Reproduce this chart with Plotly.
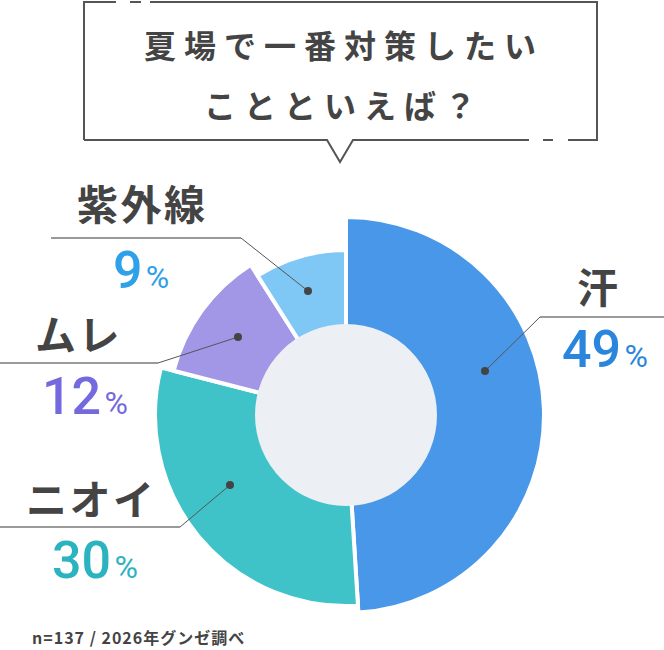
import plotly.graph_objects as go

# survey data
labels = ['汗', 'ニオイ', 'ムレ', '紫外線']
values = [49, 30, 12, 9]
n_total = 137
source = '2026年グンゼ調べ'
title_lines = ['夏場で一番対策したい', 'ことといえば？']

# styling
slice_colors = ['#4897E8', '#40C3C8', '#A296E6', '#7FC8F5']
pct_colors = ['#2A86DD', '#2BB3C0', '#7469DE', '#2FA0EA']
outer_r = [196, 189, 176, 163]  # each slice sticks out by a different amount

W, H = 664, 650
CX, CY = 346, 415  # donut centre in px
HOLE_R = 91

# label layout in px: (dot, elbow, end of horizontal rule, name pos, pct pos)
leaders = [
    ((485, 371), (540, 317), 664, (597, 285), (605, 349)),
    ((230, 485), (180, 527), 0, (90, 497), (95, 560)),
    ((238, 337), (158, 363), 0, (77, 332), (85, 396)),
    ((308, 291), (241, 238), 51, (141, 202), (141, 270)),
]

JP = 'Noto Sans CJK JP'
HAIR = '\u200a'


def spaced(s, sp='\u2005'):
    return sp.join(s)


fig = go.Figure()

# one pie per slice so every slice can have its own radius
for i, r in enumerate(outer_r):
    r2 = r + 2
    fig.add_trace(go.Pie(
        labels=labels,
        values=values,
        sort=False,
        direction='clockwise',
        rotation=0,
        hole=(HOLE_R - 4) / r2,
        marker=dict(
            colors=[slice_colors[i] if j == i else 'rgba(0,0,0,0)' for j in range(len(values))],
            line=dict(color='white', width=[4 if j == i else 0 for j in range(len(values))])
        ),
        domain=dict(x=[(CX - r2) / W, (CX + r2) / W],
                    y=[(H - CY - r2) / H, (H - CY + r2) / H]),
        textinfo='none',
        hoverinfo='skip',
        showlegend=False
    ))

# empty trace so the px axes exist for shapes/annotations
fig.add_trace(go.Scatter(x=[], y=[], showlegend=False))

shapes = []
annotations = []

# grey centre of the donut
shapes.append(dict(type='circle', xref='x', yref='y', layer='above',
                   x0=CX - HOLE_R, x1=CX + HOLE_R, y0=CY - HOLE_R, y1=CY + HOLE_R,
                   fillcolor='#ECEFF3', line=dict(width=0)))

# speech bubble around the title
bubble = ('M 84 140 L 84 2 L 116 2 M 130 2 L 141 2 M 150 2 L 597 2 L 597 140 L 568 140 '
          'M 553 140 L 543 140 M 529 140 L 353 140 L 340 162 L 327 140 L 84 140')
shapes.append(dict(type='path', xref='x', yref='y', path=bubble,
                   line=dict(color='#555555', width=2)))

for i, (dot, elbow, end_x, name_pos, pct_pos) in enumerate(leaders):
    shapes.append(dict(type='line', xref='x', yref='y', x0=elbow[0], y0=elbow[1], x1=end_x, y1=elbow[1],
                       line=dict(color='#9A9A9A', width=2)))
    shapes.append(dict(type='line', xref='x', yref='y', x0=dot[0], y0=dot[1], x1=elbow[0], y1=elbow[1],
                       line=dict(color='#555555', width=1)))
    shapes.append(dict(type='circle', xref='x', yref='y', x0=dot[0] - 4, x1=dot[0] + 4,
                       y0=dot[1] - 4, y1=dot[1] + 4, fillcolor='#444444', line=dict(width=0)))

    annotations.append(dict(x=name_pos[0], y=name_pos[1], xref='x', yref='y', text=spaced(labels[i], HAIR),
                            showarrow=False, xanchor='center', yanchor='middle',
                            font=dict(family=JP, size=41, color='#444444', weight=700)))
    pct_text = f"{values[i]}<span style='font-size:32px;font-weight:400'>{HAIR}%</span>"
    annotations.append(dict(x=pct_pos[0], y=pct_pos[1], xref='x', yref='y', text=pct_text,
                            showarrow=False, xanchor='center', yanchor='middle',
                            font=dict(family='Roboto', size=52, color=pct_colors[i], weight=500)))

# title inside the bubble
for line, y in zip(title_lines, [44, 104]):
    annotations.append(dict(x=340, y=y, xref='x', yref='y', text=spaced(line),
                            showarrow=False, xanchor='center', yanchor='middle',
                            font=dict(family=JP, size=32, color='#444444', weight=700)))

# footnote (letter-spaced a little, like the original)
annotations.append(dict(x=32, y=649, xref='x', yref='y', text=spaced(f'n={n_total} / {source}', HAIR),
                        showarrow=False, xanchor='left', yanchor='bottom', borderpad=0, borderwidth=0,
                        font=dict(family=JP, size=16, color='#444444', weight=700)))

fig.update_layout(
    width=W,
    height=H,
    margin=dict(l=0, r=0, t=0, b=0),
    paper_bgcolor='white',
    plot_bgcolor='white',
    xaxis=dict(range=[0, W], visible=False, fixedrange=True),
    yaxis=dict(range=[H, 0], visible=False, fixedrange=True),
    shapes=shapes,
    annotations=annotations
)

# drop the browser's default body margin so the figure sits at the page corner
fig.write_html("out.html", config={'displayModeBar': False},
               post_script="document.body.style.margin='0';")
